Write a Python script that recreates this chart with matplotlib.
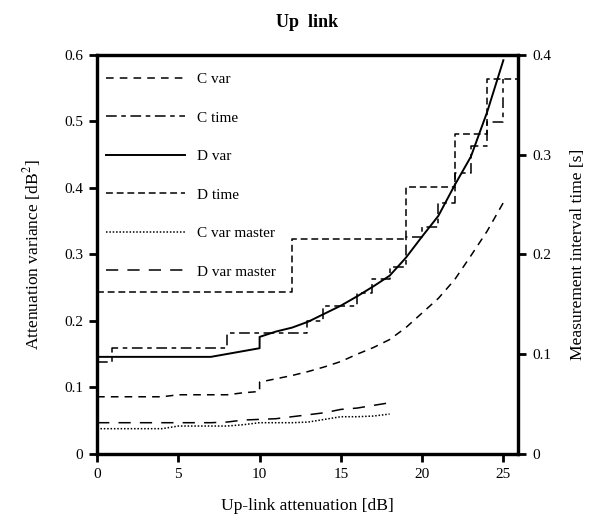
import numpy as np
import matplotlib
matplotlib.use("Agg")
import matplotlib.pyplot as plt

plt.rcParams["font.family"] = ["Liberation Serif", "DejaVu Serif"]
plt.rcParams["mathtext.fontset"] = "stix"

# ---- data ----
# attenuation variance [dB^2], left axis
x_dvar = [0, 7, 10, 10, 11, 12, 13, 14, 15, 16, 17, 18, 19, 20, 21, 22, 23, 24, 25]
d_var = [0.146, 0.146, 0.159, 0.176, 0.184, 0.190, 0.199, 0.211, 0.223, 0.237,
         0.252, 0.268, 0.295, 0.327, 0.358, 0.404, 0.447, 0.514, 0.592]

x_cvar = [0, 4, 5, 8, 9, 10, 10, 11, 12, 13, 14, 15, 16, 17, 18, 19, 20, 21, 22, 23, 24, 25]
c_var = [0.086, 0.086, 0.089, 0.089, 0.092, 0.094, 0.108, 0.113, 0.118, 0.124, 0.131,
         0.139, 0.150, 0.160, 0.172, 0.190, 0.212, 0.234, 0.262, 0.298, 0.335, 0.378]

x_master = [0, 1, 2, 3, 4, 5, 6, 7, 8, 9, 10, 11, 12, 13, 14, 15, 16, 17, 18]
d_var_master = [0.047, 0.047, 0.047, 0.047, 0.047, 0.047, 0.047, 0.047, 0.048, 0.051,
                0.052, 0.053, 0.056, 0.059, 0.062, 0.067, 0.069, 0.073, 0.077]
c_var_master = [0.038, 0.038, 0.038, 0.038, 0.038, 0.042, 0.042, 0.042, 0.042, 0.044,
                0.047, 0.047, 0.047, 0.048, 0.052, 0.056, 0.056, 0.057, 0.060]

# measurement interval time [s], right axis (step functions)
x_ctime = [0, 0.9, 8, 12.9, 13.9, 16, 16.9, 18, 19, 20, 21, 22, 23, 24, 25]
c_time = [0.092, 0.106, 0.121, 0.133, 0.148, 0.161, 0.175, 0.187, 0.217, 0.228,
          0.252, 0.282, 0.309, 0.333, 0.376]

x_dtime = [0, 12, 19, 22, 24, 25.9]
d_time = [0.162, 0.215, 0.268, 0.321, 0.376, 0.376]

# ---- figure ----
fig = plt.figure(figsize=(5.92, 5.23), dpi=100)
ax = fig.add_axes([0.164, 0.132, 0.711, 0.763])
ax2 = ax.twinx()

lw = 1.1
l_cvar, = ax.plot(x_cvar, c_var, color="black", lw=lw, dashes=(5, 4), label="C var")
l_ctime, = ax2.plot(x_ctime, c_time, color="black", lw=lw, dashes=(7, 3, 3, 3),
                    drawstyle="steps-post", label="C time")
l_dvar, = ax.plot(x_dvar, d_var, color="black", lw=1.4, label="D var")
l_dtime, = ax2.plot(x_dtime, d_time, color="black", lw=lw, dashes=(4.5, 2.5),
                    drawstyle="steps-post", label="D time")
l_cm, = ax.plot(x_master, c_var_master, color="black", lw=lw, dashes=(1, 1.2),
                label="C var master")
l_dm, = ax.plot(x_master, d_var_master, color="black", lw=lw, dashes=(8, 6),
                label="D var master")

ax.set_xlim(0, 25.9)
ax.set_ylim(0, 0.6)
ax2.set_ylim(0, 0.4)
ax.set_xticks([0, 5, 10, 15, 20, 25])
ax.set_yticks([0, 0.1, 0.2, 0.3, 0.4, 0.5, 0.6])
ax.set_yticklabels(["0", "0.1", "0.2", "0.3", "0.4", "0.5", "0.6"])
ax2.set_yticks([0, 0.1, 0.2, 0.3, 0.4])
ax2.set_yticklabels(["0", "0.1", "0.2", "0.3", "0.4"])

for a in (ax, ax2):
    for s in a.spines.values():
        s.set_linewidth(2.3)
    a.tick_params(direction="out", length=6, width=2, labelsize=11, pad=4)

ax.set_xlabel("Up-link attenuation [dB]", fontsize=12.6, labelpad=12)
ax.set_ylabel("Attenuation variance [dB$^2$]", fontsize=12.6, labelpad=15)
ax2.set_ylabel("Measurement interval time [s]", fontsize=12.6, labelpad=14)
ax.set_title("Up  link", fontsize=13, fontweight="bold", pad=20)

handles = [l_cvar, l_ctime, l_dvar, l_dtime, l_cm, l_dm]
ax2.legend(handles, [h.get_label() for h in handles], loc="upper left",
           bbox_to_anchor=(-0.012, 0.99), frameon=False, fontsize=11,
           handlelength=5.2, handletextpad=0.8, labelspacing=1.62)

fig.savefig("out.png", dpi=100)
